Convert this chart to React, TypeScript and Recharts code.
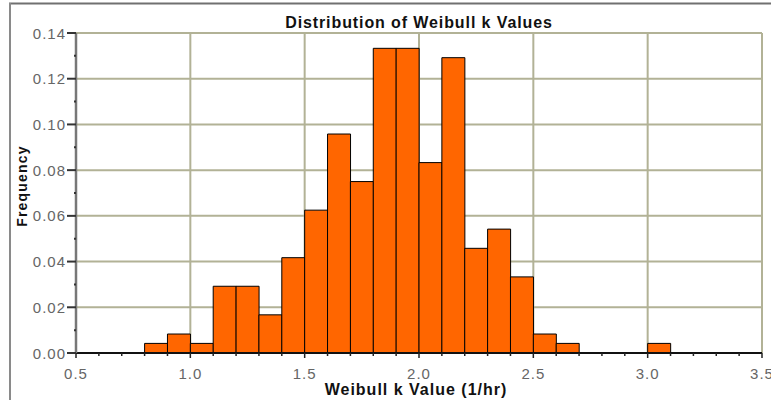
import React from "react";
import {
  Bar,
  CartesianGrid,
  ComposedChart,
  XAxis,
  YAxis,
} from "recharts";

// histogram bins (centre of each 0.1-wide bin) and their relative frequencies
const binCenters = [
  0.85, 0.95, 1.05, 1.15, 1.25, 1.35, 1.45, 1.55, 1.65, 1.75, 1.85, 1.95,
  2.05, 2.15, 2.25, 2.35, 2.45, 2.55, 2.65, 3.05,
];
const frequencies = [
  0.0042, 0.0083, 0.0042, 0.0292, 0.0292, 0.0167, 0.0417, 0.0625, 0.0958,
  0.075, 0.1333, 0.1333, 0.0833, 0.1292, 0.0458, 0.0542, 0.0333, 0.0083,
  0.0042, 0.0042,
];

const xTicks = [
  0.5, 0.6, 0.7, 0.8, 0.9, 1.0, 1.1, 1.2, 1.3, 1.4, 1.5, 1.6, 1.7, 1.8, 1.9,
  2.0, 2.1, 2.2, 2.3, 2.4, 2.5, 2.6, 2.7, 2.8, 2.9, 3.0, 3.1, 3.2, 3.3, 3.4,
  3.5,
];
const xMajor = [0.5, 1.0, 1.5, 2.0, 2.5, 3.0, 3.5];
const yTicks = [
  0, 0.01, 0.02, 0.03, 0.04, 0.05, 0.06, 0.07, 0.08, 0.09, 0.1, 0.11, 0.12,
  0.13, 0.14,
];
const yMajor = [0, 0.02, 0.04, 0.06, 0.08, 0.1, 0.12, 0.14];

const data = binCenters.map((k, i) => ({ k, freq: frequencies[i] }));

const W = 771;
const H = 400;
const margin = { top: 33, right: 9, bottom: 0, left: 0 };
const yAxisWidth = 76;
const xAxisHeight = 47;

const font = '"Liberation Sans", Arial, sans-serif';

function XTick(props: any) {
  const { x, y, payload } = props;
  const major = xMajor.includes(payload.value);
  return (
    <g>
      <line x1={x} x2={x} y1={y} y2={y + (major ? 5 : 3)} stroke="#222" strokeWidth={1.5} />
      {major ? (
        <text
          x={x}
          y={y + 26}
          textAnchor="middle"
          fill="#666"
          fontSize={15}
          letterSpacing={1}
          fontFamily={font}
        >
          {payload.value.toFixed(1)}
        </text>
      ) : null}
    </g>
  );
}

function YTick(props: any) {
  const { x, y, payload } = props;
  const major = yMajor.includes(payload.value);
  return (
    <g>
      <line x1={x - (major ? 9 : 2)} x2={x} y1={y} y2={y} stroke="#333" strokeWidth={2} />
      {major ? (
        <text
          x={x - 10}
          y={y + 5.5}
          textAnchor="end"
          fill="#666"
          fontSize={15}
          letterSpacing={1}
          fontFamily={font}
        >
          {payload.value.toFixed(2)}
        </text>
      ) : null}
    </g>
  );
}

export default function App() {
  return (
    <div style={{ position: "absolute", left: 0, top: 0, width: W, height: H, background: "#fff" }}>
      <ComposedChart
        width={W}
        height={H}
        data={data}
        margin={margin}
        barCategoryGap={0}
        barGap={0}
      >
        <CartesianGrid
          stroke="#b2b296"
          strokeWidth={2}
          horizontalValues={yMajor}
          verticalValues={xMajor}
        />
        <XAxis
          dataKey="k"
          type="number"
          domain={[0.5, 3.5]}
          ticks={xTicks}
          interval={0}
          height={xAxisHeight}
          tickSize={0}
          tickMargin={0}
          tickLine={false}
          tick={<XTick />}
          axisLine={{ stroke: "#111", strokeWidth: 2 }}
          allowDataOverflow
        />
        <XAxis
          xAxisId="top"
          orientation="top"
          type="number"
          domain={[0.5, 3.5]}
          height={0}
          tick={false}
          tickLine={false}
          axisLine={{ stroke: "#333", strokeWidth: 2 }}
          allowDataOverflow
        />
        <YAxis
          type="number"
          domain={[0, 0.14]}
          ticks={yTicks}
          interval={0}
          width={yAxisWidth}
          tickSize={0}
          tickMargin={0}
          tickLine={false}
          tick={<YTick />}
          axisLine={{ stroke: "#777", strokeWidth: 2.5 }}
          allowDataOverflow
        />
        <YAxis
          yAxisId="right"
          orientation="right"
          type="number"
          domain={[0, 0.14]}
          width={0}
          tick={false}
          tickLine={false}
          axisLine={{ stroke: "#222", strokeWidth: 2 }}
          allowDataOverflow
        />
        <Bar
          dataKey="freq"
          fill="#ff6600"
          stroke="#000"
          strokeWidth={1}
          isAnimationActive={false}
        />
      </ComposedChart>
      <svg
        width={W}
        height={H}
        style={{ position: "absolute", left: 0, top: 0, pointerEvents: "none" }}
      >
        <line x1={9} x2={W} y1={3.5} y2={3.5} stroke="#707070" strokeWidth={2} />
        <line x1={10} x2={10} y1={3} y2={H} stroke="#8a8a8a" strokeWidth={2} />
        <text
          x={419}
          y={27.5}
          textAnchor="middle"
          fontSize={16}
          fontWeight="bold"
          letterSpacing={0.9}
          fill="#111"
          fontFamily={font}
        >
          Distribution of Weibull k Values
        </text>
        <text
          x={416}
          y={395}
          textAnchor="middle"
          fontSize={16}
          fontWeight="bold"
          letterSpacing={1}
          fill="#111"
          fontFamily={font}
        >
          Weibull k Value (1/hr)
        </text>
        <text
          transform="translate(27,186) rotate(-90)"
          textAnchor="middle"
          fontSize={14}
          fontWeight="bold"
          letterSpacing={1.2}
          fill="#111"
          fontFamily={font}
        >
          Frequency
        </text>
      </svg>
    </div>
  );
}
